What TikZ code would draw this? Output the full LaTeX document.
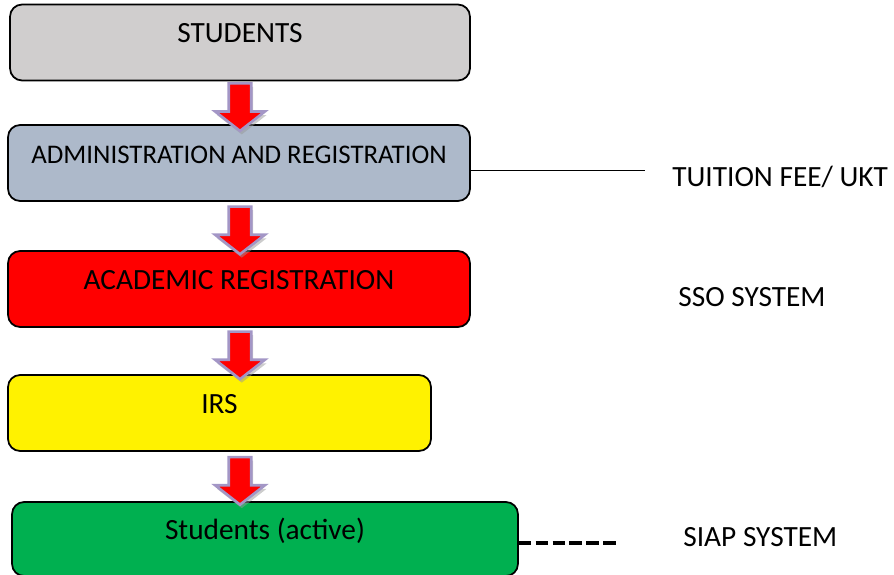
\documentclass[tikz,border=0pt]{standalone}
\usepackage{fontspec}
\setmainfont{Carlito}
\usetikzlibrary{calc,shapes.arrows,shadows}
\definecolor{stugray}{HTML}{D0CECE}
\definecolor{admblue}{HTML}{ADB9CA}
\definecolor{actgreen}{HTML}{00B050}
\definecolor{arrline}{HTML}{A396C6}
\begin{document}
\begin{tikzpicture}[x=0.02cm,y=-0.02cm,
      font=\fontsize{16.7}{20}\selectfont,
      box/.style={draw,line width=1pt,rounded corners=0.24cm,minimum height=1.52cm,
        text height=1.5ex,text depth=1.5ex,inner sep=0pt},
      blockarr/.style={single arrow,shape border rotate=270,fill=red,draw=arrline,line width=1.5pt,
        minimum height=0.95cm,inner sep=0.2cm,single arrow head extend=0.27cm,
        single arrow tip angle=104,
        drop shadow={shadow xshift=1pt,shadow yshift=-2pt,fill=black!40}},
      side/.style={anchor=west,inner sep=0pt}]
    \useasboundingbox (0,0) rectangle (894,575);
    \node[box,fill=stugray,minimum width=9.2cm] (stu) at (240,42.5) {STUDENTS};
    \node[box,fill=admblue,minimum width=9.24cm,font=\fontsize{15.3}{18}\selectfont] (adm) at (239,163) {ADMINISTRATION AND REGISTRATION};
    \node[box,fill=red,minimum width=9.24cm] (aca) at (239,289) {ACADEMIC REGISTRATION};
    \node[box,fill=yellow,minimum width=8.46cm] (irs) at (219.5,413) {IRS};
    \node[box,fill=actgreen,minimum width=10.12cm,minimum height=1.48cm] (act) at (265,539) {Students (active)};
    % arrows between the stages
    \coordinate (m1) at ($(stu.south)!.5!(adm.north)$);
    \coordinate (m2) at ($(adm.south)!.5!(aca.north)$);
    \coordinate (m3) at ($(aca.south)!.5!(irs.north)$);
    \coordinate (m4) at ($(irs.south)!.5!(act.north)$);
    \node[blockarr] (a1) at (stu.south |- m1) {};
    \node[blockarr] (a2) at (stu.south |- m2) {};
    \node[blockarr] (a3) at (stu.south |- m3) {};
    \node[blockarr] (a4) at (stu.south |- m4) {};
    % side notes
    \node[side] (tuit) at (672,177) {TUITION FEE/ UKT};
    \node[side] (sso) at (678,297) {SSO SYSTEM};
    \node[side] (siap) at (683,537) {SIAP SYSTEM};
    \coordinate (tuitend) at (645,170);
    \coordinate (siapend) at (620,543);
    \draw[line width=0.5pt] (adm.east |- tuitend) -- (tuitend);
    \draw[line width=2.2pt,dash pattern=on 7.2pt off 2.4pt] (act.east |- siapend) -- (siapend);
\end{tikzpicture}
\end{document}
